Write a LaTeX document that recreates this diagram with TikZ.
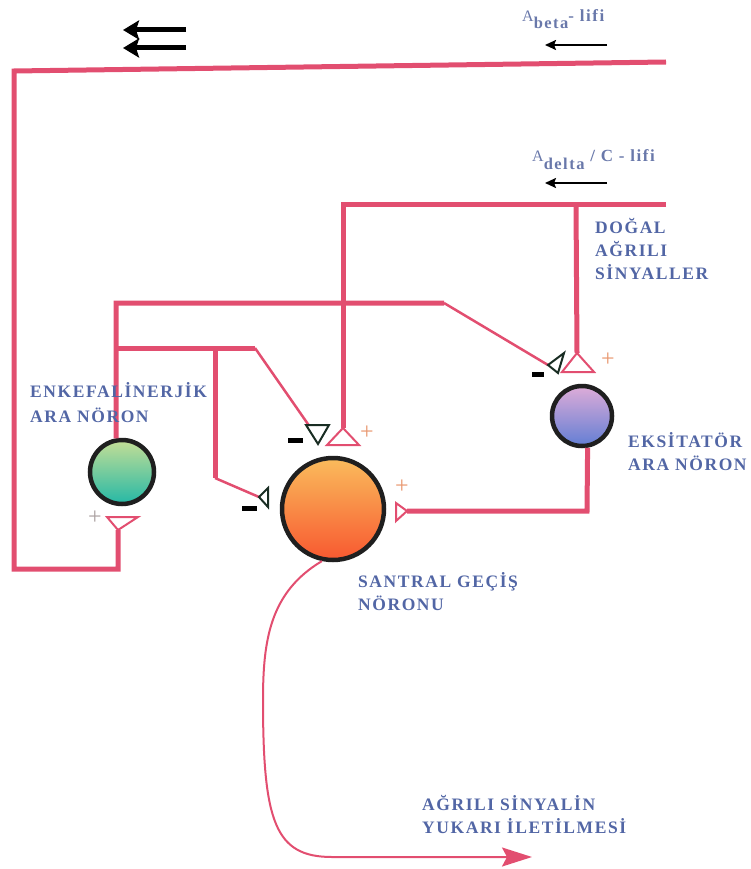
\documentclass[tikz,border=0pt]{standalone}
\usepackage{fontspec}
\setmainfont{Liberation Serif}
\newfontfamily\lblfont[LetterSpace=9]{Liberation Serif}
\usetikzlibrary{arrows.meta}
\definecolor{fib}{RGB}{226,78,112}
\definecolor{lbl}{RGB}{82,102,165}
\definecolor{lblb}{RGB}{105,120,170}
\definecolor{inh}{RGB}{25,45,35}
\definecolor{plusc}{RGB}{232,150,110}
\definecolor{plusg}{RGB}{170,160,160}
\begin{document}
\begin{tikzpicture}[x=1pt,y=-1pt,
  fiber/.style={draw=fib,line width=5pt,line join=miter},
  thinfiber/.style={draw=fib,line width=2.5pt},
  neuron/.style={circle,draw=black!88,line width=4.5pt,inner sep=0pt},
  lbltext/.style={text=lbl,font=\lblfont\bfseries\fontsize{17.5}{21}\selectfont,anchor=base west,inner sep=0pt},
  fibtext/.style={text=lblb,anchor=base west,inner sep=0pt},
  exsyn/.style={draw=fib,fill=white,line width=2pt,line join=miter},
  insyn/.style={draw=inh,fill=white,line width=2pt,line join=miter},
  minusbar/.style={fill=black,draw=none,minimum height=5pt,inner sep=0pt},
  plussign/.style={text=plusc,font=\fontsize{24}{24}\selectfont,inner sep=0pt},
  bigarrow/.style={draw=black,line width=5pt,-{Stealth[length=16pt,width=19pt,inset=3pt]}},
  smallarrow/.style={draw=black,line width=2pt,-{Stealth[length=11pt,width=10pt,inset=2pt]}},
]
\useasboundingbox (0,0) rectangle (750,869);

% neurons
\node[neuron,minimum size=64pt,top color={rgb,255:red,196;green,222;blue,150},bottom color={rgb,255:red,36;green,184;blue,166}] (enk) at (122,472) {};
\node[neuron,minimum size=102pt,top color={rgb,255:red,250;green,188;blue,92},bottom color={rgb,255:red,248;green,88;blue,48}] (cen) at (333,509) {};
\node[neuron,minimum size=60pt,top color={rgb,255:red,222;green,172;blue,216},bottom color={rgb,255:red,98;green,126;blue,212}] (exc) at (582,416) {};

% coordinates
\coordinate (ab0) at (666,62);
\coordinate (ab1) at (14,71);
\coordinate (ab2) at (14,569);
\coordinate (enkS) at (118,530);
\coordinate (ad0) at (666,204);
\coordinate (ad1) at (343,204);
\coordinate (ad2) at (576,204);
\coordinate (cenS) at (343,428);
\coordinate (excS) at (577,353);
\coordinate (e1) at (116,303);
\coordinate (e2) at (116,348);
\coordinate (k1) at (444,303);
\coordinate (k2) at (255,348);
\coordinate (k3) at (215,348);
\coordinate (k4) at (215,478);
\coordinate (excI) at (548,365);
\coordinate (cenI) at (310,427);
\coordinate (cenI2) at (259,497);
\coordinate (xb) at (587,511);
\coordinate (xS) at (407,511);
\coordinate (up) at (532,857);

% Abeta fibre
\draw[fiber] (ab0) -- (ab1) -- (ab2) -| (enkS);
% Adelta / C fibre
\draw[fiber] (ad0) -- (ad1) -- (cenS);
\draw[fiber] (ad2) -- (excS);
% enkephalinergic axon
\draw[fiber] (enk.100) -- (e1) -- (k1);
\draw[thinfiber] (k1) -- (excI);
\draw[fiber] (e2) -- (k2);
\draw[thinfiber] (k2) -- (cenI);
\draw[fiber] (k3) -- (k4);
\draw[thinfiber] (k4) -- (cenI2);
% excitatory axon
\draw[fiber] (exc.-80) -- (xb) -- (xS);
% output
\draw[draw=fib,line width=2pt,-{Stealth[length=30pt,width=19pt,inset=5pt]}]
  (cen.258) .. controls (270,592) and (263,640) .. (263,700)
  .. controls (263,822) and (275,857) .. (332,857) -- (up);

% synapses (excitatory)
\draw[exsyn] (enkS) -- (107,517) -- (138,517) -- cycle;
\draw[exsyn] (cenS) -- (327,445) -- (359,445) -- cycle;
\draw[exsyn] (excS) -- (562,372) -- (594,372) -- cycle;
\draw[exsyn] (xS) -- (396,503) -- (396,521) -- cycle;
% synapses (inhibitory)
\draw[insyn] (306,425) -- (329,425) -- (318,444) -- cycle;
\draw[insyn] (cenI2) -- (268,488) -- (268,507) -- cycle;
\draw[insyn] (excI) -- (564,353) -- (558,373) -- cycle;

% minus bars
\node[minusbar,minimum width=15pt] (m1) at (295,440) {};
\node[minusbar,minimum width=15pt] (m2) at (249,508) {};
\node[minusbar,minimum width=12pt] (m3) at (538,374) {};
% plus signs
\node[plussign,text=plusg] (p1) at (95,518) {+};
\node[plussign] (p2) at (367,433) {+};
\node[plussign] (p3) at (402,487) {+};
\node[plussign] (p4) at (608,360) {+};

% black arrows
\coordinate (ba1s) at (186,30); \coordinate (ba1e) at (123,30);
\coordinate (ba2s) at (186,48); \coordinate (ba2e) at (123,48);
\draw[bigarrow] (ba1s) -- (ba1e);
\draw[bigarrow] (ba2s) -- (ba2e);
\coordinate (sa1s) at (607,45); \coordinate (sa1e) at (545,45);
\coordinate (sa2s) at (607,183); \coordinate (sa2e) at (545,183);
\draw[smallarrow] (sa1s) -- (sa1e);
\draw[smallarrow] (sa2s) -- (sa2e);

% fibre labels
\node[fibtext] (tb) at (522,22) {\fontsize{16}{16}\selectfont A\raisebox{-7pt}{\lblfont\bfseries\fontsize{16.5}{17}\selectfont beta}\lblfont\bfseries\fontsize{17}{17}\selectfont- lifi};
\node[fibtext] (td) at (532,162) {\fontsize{16}{16}\selectfont A\raisebox{-8pt}{\lblfont\bfseries\fontsize{16.5}{17}\selectfont delta}\lblfont\bfseries\fontsize{17}{17}\selectfont\ / C - lifi};

% labels
\node[lbltext] (l1a) at (595,233) {DOĞAL};
\node[lbltext] (l1b) at (595,256) {AĞRILI};
\node[lbltext] (l1c) at (595,279) {SİNYALLER};
\node[lbltext] (l2a) at (30,397) {ENKEFALİNERJİK};
\node[lbltext] (l2b) at (30,422) {ARA NÖRON};
\node[lbltext] (l3a) at (628,447) {EKSİTATÖR};
\node[lbltext] (l3b) at (628,470) {ARA NÖRON};
\node[lbltext] (l4a) at (358,587) {SANTRAL GEÇİŞ};
\node[lbltext] (l4b) at (358,610) {NÖRONU};
\node[lbltext] (l5a) at (422,810) {AĞRILI SİNYALİN};
\node[lbltext] (l5b) at (422,833) {YUKARI İLETİLMESİ};
\end{tikzpicture}
\end{document}
